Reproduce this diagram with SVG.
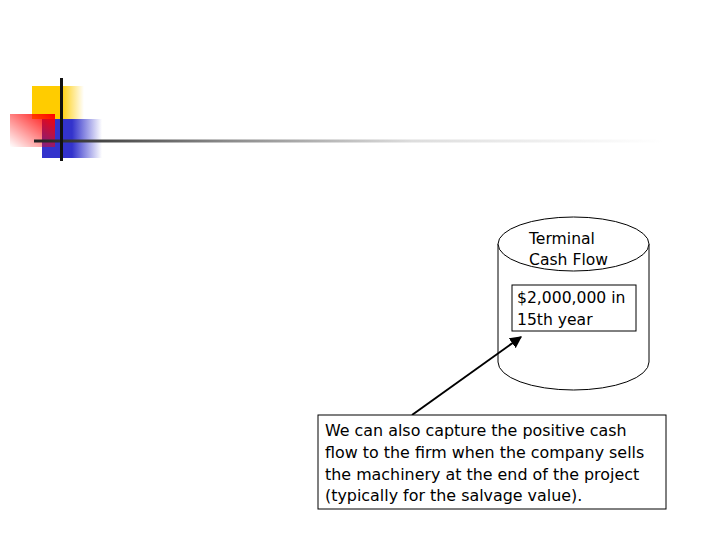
<svg xmlns="http://www.w3.org/2000/svg" width="720" height="540" viewBox="0 0 720 540">
<defs>
<linearGradient id="gy" x1="0" y1="0" x2="1" y2="0"><stop offset="0" stop-color="#ffcc00"/><stop offset="0.55" stop-color="#ffcc00"/><stop offset="1" stop-color="#ffcc00" stop-opacity="0"/></linearGradient>
<linearGradient id="gb" x1="0" y1="0" x2="1" y2="0"><stop offset="0" stop-color="#3333cc"/><stop offset="0.5" stop-color="#3333cc"/><stop offset="1" stop-color="#3333cc" stop-opacity="0"/></linearGradient>
<linearGradient id="gr" x1="1" y1="0" x2="0" y2="1"><stop offset="0" stop-color="#ff0000"/><stop offset="1" stop-color="#ff0000" stop-opacity="0"/></linearGradient>
<linearGradient id="gl" x1="0" y1="0" x2="1" y2="0"><stop offset="0" stop-color="#222"/><stop offset="0.3" stop-color="#888"/><stop offset="0.6" stop-color="#ddd"/><stop offset="1" stop-color="#fff"/></linearGradient>
<marker id="ah" viewBox="0 0 10 10" refX="9" refY="5" markerWidth="6" markerHeight="6" orient="auto"><path d="M0,0 L10,5 L0,10 z" fill="#000"/></marker>
<style>
.t{font-family:"DejaVu Sans",Verdana,sans-serif;font-size:15.6px;fill:#000}
.n{font-size:15.9px}
.box{fill:#fff;stroke:#000;stroke-width:1}
</style>
</defs>
<g id="decor">
<rect x="32" y="86" width="52" height="33" fill="url(#gy)"/>
<rect x="42" y="119" width="60" height="39" fill="url(#gb)"/>
<rect x="10" y="114" width="45" height="33" fill="url(#gr)"/>
<rect x="34" y="139.5" width="630" height="3" fill="url(#gl)"/>
<rect x="60" y="78" width="3" height="83" fill="#111"/>
</g>
<g id="cylinder">
<path d="M498,244 L498,362 A75.5,28 0 0 0 649,362 L649,244" fill="#fff" stroke="#000" stroke-width="1"/>
<ellipse cx="573.5" cy="244" rx="75.5" ry="27" fill="#fff" stroke="#000" stroke-width="1"/>
<text class="t" x="529" y="244">Terminal</text>
<text class="t" x="529" y="265">Cash Flow</text>
</g>
<g id="inner">
<rect class="box" x="512" y="285" width="124" height="46" stroke="#223"/>
<text class="t" x="517" y="303">$2,000,000 in</text>
<text class="t" x="517" y="325">15th year</text>
</g>
<g id="connectors">
<line x1="412" y1="415" x2="521" y2="337" stroke="#000" stroke-width="2" marker-end="url(#ah)"/>
</g>
<g id="note">
<rect class="box" x="318" y="415" width="348" height="94"/>
<text class="t n" x="325" y="436">We can also capture the positive cash</text>
<text class="t n" x="325" y="458">flow to the firm when the company sells</text>
<text class="t n" x="325" y="480">the machinery at the end of the project</text>
<text class="t n" x="325" y="501">(typically for the salvage value).</text>
</g>
</svg>
